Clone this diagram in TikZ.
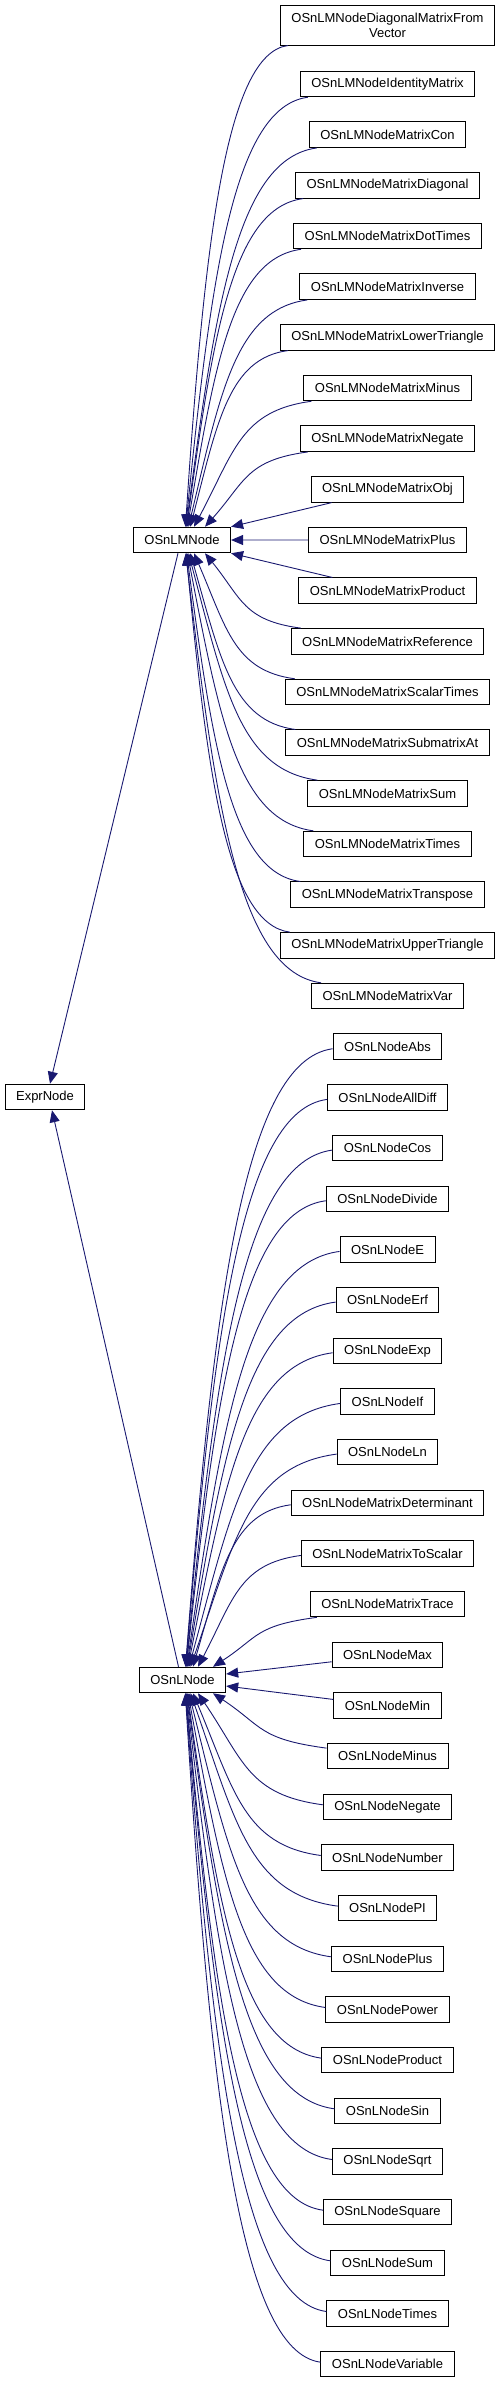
\documentclass[tikz,border=0pt]{standalone}
\usepackage{fontspec}
\setmainfont{Liberation Sans}
\usetikzlibrary{arrows.meta,calc}
\definecolor{edgeblue}{RGB}{25,25,112}
\newcommand{\inhcurve}[3]{%
  \draw[inh] let \p1=#1, \p2=#2, \n1={(\x1-\x2)*(0.1+0.5*(\x1-\x2)/((\x1-\x2)+abs(\y1-\y2)))} in (\p1) .. controls ({\x1-0.6*(\x1-\x2)},{\y1+(#3)*0.08*(\x1-\x2)}) and ({\x2+\n1},{\y2+0.6*(\y1-\y2)}) .. (\p2);}
\begin{document}
\begin{tikzpicture}[
  box/.style={draw=black, line width=1pt, fill=white, font=\fontsize{13}{15}\selectfont, inner xsep=11pt, inner ysep=0pt, minimum height=25.5pt, align=center},
  inh/.style={draw=edgeblue, line width=0.9pt, -{Triangle[length=12pt,width=10pt]}},
]
\useasboundingbox (0pt,0pt) rectangle (501pt,-2383pt);

% parents
\node[box] (expr) at (45pt,-1097pt) {ExprNode};
\node[box] (lm) at (182pt,-540pt) {OSnLMNode};
\node[box] (l) at (182.5pt,-1680pt) {OSnLNode};

% OSnLMNode children
\node[box, minimum height=40pt] (lm0) at (387.5pt,-25pt) {OSnLMNodeDiagonalMatrixFrom\\Vector};
\foreach \r/\t in {1/IdentityMatrix,2/MatrixCon,3/MatrixDiagonal,4/MatrixDotTimes,5/MatrixInverse,6/MatrixLowerTriangle,7/MatrixMinus,8/MatrixNegate,9/MatrixObj,10/MatrixPlus,11/MatrixProduct,12/MatrixReference,13/MatrixScalarTimes,14/MatrixSubmatrixAt,15/MatrixSum,16/MatrixTimes,17/MatrixTranspose,18/MatrixUpperTriangle,19/MatrixVar}{
  \pgfmathsetmacro\yy{-(84+(\r-1)*50.67)}
  \node[box] (lm\r) at (387.5pt,\yy pt) {OSnLMNode\t};
}

% OSnLNode children
\foreach \r/\t in {20/Abs,21/AllDiff,22/Cos,23/Divide,24/E,25/Erf,26/Exp,27/If,28/Ln,29/MatrixDeterminant,30/MatrixToScalar,31/MatrixTrace,32/Max,33/Min,34/Minus,35/Negate,36/Number,37/PI,38/Plus,39/Power,40/Product,41/Sin,42/Sqrt,43/Square,44/Sum,45/Times,46/Variable}{
  \pgfmathsetmacro\yy{-(84+(\r-1)*50.67)}
  \node[box] (l\r) at (387.5pt,\yy pt) {OSnLNode\t};
}

% edges into OSnLMNode
\foreach \r in {0,...,8}{
  \pgfmathsetmacro\off{1+22/(9-\r)}
  \inhcurve{($(lm\r.south west)+(8pt,0)$)}{($(lm.north)+(\off pt,0)$)}{-1}
}
\draw[inh] ($(lm9.south west)+(21pt,0)$) -- (lm.north east);
\draw[inh] (lm10.west) -- (lm.east);
\draw[inh] ($(lm11.north west)+(34pt,0)$) -- (lm.south east);
\foreach \r in {12,...,19}{
  \pgfmathsetmacro\off{1+22/(\r-11)}
  \inhcurve{($(lm\r.north west)+(10pt,0)$)}{($(lm.south)+(\off pt,0)$)}{1}
}

% edges into OSnLNode
\foreach \r in {20,...,30}{
  \pgfmathsetmacro\off{0.5+30/(32-\r)}
  \inhcurve{($(l\r.west)+(0,-2pt)$)}{($(l.north)+(\off pt,0)$)}{-1}
}
\inhcurve{($(l31.south west)+(7pt,0)$)}{($(l.north)+(30.5pt,0)$)}{-1}
\draw[inh] ($(l32.west)+(0,-7pt)$) -- ($(l.east)+(0,6pt)$);
\draw[inh] ($(l33.west)+(0,6pt)$) -- ($(l.east)+(0,-6pt)$);
\inhcurve{($(l34.west)+(0,8pt)$)}{($(l.south)+(30.5pt,0)$)}{1}
\foreach \r in {35,...,46}{
  \pgfmathsetmacro\off{0.5+30/(\r-33)}
  \inhcurve{($(l\r.west)+(0,2pt)$)}{($(l.south)+(\off pt,0)$)}{1}
}

% edges into ExprNode
\draw[inh] ($(lm.south)+(-4pt,0)$) -- ($(expr.north)+(5pt,0)$);
\draw[inh] ($(l.north)+(-4pt,0)$) -- ($(expr.south)+(7pt,0)$);
\end{tikzpicture}
\end{document}
